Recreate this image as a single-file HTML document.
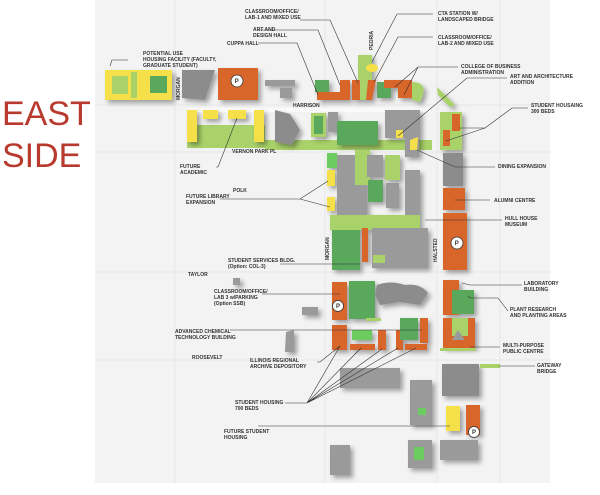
<!DOCTYPE html>
<html><head><meta charset="utf-8"><style>
html,body{margin:0;padding:0;background:#fff;width:600px;height:495px;overflow:hidden}
svg{display:block}
text{font-family:"Liberation Sans",sans-serif;font-weight:bold;fill:#333;font-size:5px}
.big{font-size:34px;font-weight:normal;fill:#b83a2e}
.st{font-size:5px;fill:#444}
</style></head><body>
<svg width="600" height="495" viewBox="0 0 600 495" xmlns="http://www.w3.org/2000/svg">
<defs><filter id="sh" x="-30%" y="-30%" width="160%" height="160%"><feDropShadow dx="3" dy="3" stdDeviation="2.5" flood-color="#000" flood-opacity="0.35"/></filter></defs>
<rect x="95" y="0" width="455" height="483" fill="#f2f3f2"/>
<g stroke="#e6e7e6" stroke-width="1" fill="none">
<path d="M95 105H550M95 152H550M95 272H550M95 360H550M175 0V483M325 0V483M437 0V483M500 0V483"/>
</g>
<text class="big" x="2" y="125">EAST</text>
<text class="big" x="2" y="167">SIDE</text>
<!-- roads light -->
<path d="M190 108 H430 V112 H190Z" fill="#fafafa"/>
<!-- north left cluster -->
<g filter="url(#sh)">
<rect x="105" y="70" width="67" height="30" fill="#f5e04a"/>
<rect x="112" y="76" width="16" height="18" fill="#a9d26a"/>
<rect x="131" y="72" width="6" height="26" fill="#a9d26a"/>
<rect x="150" y="76" width="17" height="17" fill="#5aa85c"/>
<path d="M182 70 L215 70 L205 100 L182 98Z" fill="#8c8c8c"/>
<rect x="218" y="68" width="40" height="32" fill="#d8662a"/>
<rect x="265" y="80" width="30" height="6" fill="#9a9a9a"/>
<rect x="280" y="88" width="12" height="10" fill="#9a9a9a"/>
<rect x="315" y="80" width="14" height="12" fill="#5aa85c"/>
<path d="M317 92 H340 V80 H350 V100 H317Z" fill="#d8662a"/>
<rect x="358" y="55" width="14" height="45" fill="#a9d26a"/>
<rect x="352" y="80" width="8" height="20" fill="#d8662a"/>
<path d="M368 80 H376 L372 100 H366Z" fill="#d8662a"/>
<rect x="377" y="82" width="14" height="16" fill="#5aa85c"/>
<rect x="384" y="80" width="28" height="8" fill="#d8662a"/>
<rect x="398" y="88" width="14" height="10" fill="#d8662a"/>
<path d="M412 82 Q430 82 420 102 L412 100Z" fill="#a9d26a"/>
<path d="M437 87 L455 105 L450 107 L438 95Z" fill="#a9d26a"/>
</g>
<ellipse cx="372" cy="68" rx="6" ry="4" fill="#f5e04a"/>
<circle cx="237" cy="81" r="6" fill="#fff" stroke="#333" stroke-width="0.8"/><text x="234.8" y="83" style="font-size:6px">P</text>
<!-- row 2 -->
<path d="M187 125 H265 V148 H187Z M265 140 H432 V150 H265Z" fill="#a9d26a"/>
<g filter="url(#sh)">
<rect x="187" y="110" width="10" height="32" fill="#f5e04a"/>
<rect x="203" y="110" width="15" height="9" fill="#f5e04a"/>
<rect x="228" y="110" width="18" height="9" fill="#f5e04a"/>
<rect x="254" y="110" width="10" height="32" fill="#f5e04a"/>
<path d="M275 110 L290 114 L300 130 L292 145 L275 142Z" fill="#8c8c8c"/>
<rect x="311" y="113" width="15" height="24" fill="#a9d26a"/>
<rect x="314" y="116" width="9" height="18" fill="#5aa85c"/>
<rect x="328" y="112" width="10" height="20" fill="#9a9a9a"/>
<rect x="337" y="121" width="41" height="24" fill="#5aa85c"/>
<rect x="385" y="110" width="35" height="28" fill="#9a9a9a"/>
<rect x="405" y="135" width="14" height="22" fill="#9a9a9a"/>
<rect x="440" y="112" width="22" height="38" fill="#a9d26a"/>
<rect x="452" y="114" width="8" height="17" fill="#d8662a"/>
<rect x="443" y="130" width="7" height="16" fill="#d8662a"/>
</g>
<rect x="396" y="130" width="7" height="8" fill="#f5e04a"/>
<path d="M410 140 L418 137 L417 150 L410 150Z" fill="#f5e04a"/>
<!-- central -->
<g filter="url(#sh)">
<rect x="327" y="153" width="10" height="15" fill="#6ccc5f"/>
<rect x="327" y="170" width="8" height="16" fill="#f5e04a"/>
<rect x="327" y="197" width="8" height="14" fill="#f5e04a"/>
<rect x="337" y="155" width="30" height="60" fill="#9a9a9a"/>
<rect x="355" y="150" width="15" height="35" fill="#a9d26a"/>
<rect x="367" y="155" width="16" height="22" fill="#9a9a9a"/>
<rect x="368" y="180" width="15" height="22" fill="#5aa85c"/>
<rect x="385" y="155" width="15" height="25" fill="#a9d26a"/>
<rect x="386" y="183" width="13" height="25" fill="#9a9a9a"/>
<rect x="405" y="170" width="15" height="45" fill="#9a9a9a"/>
<rect x="443" y="153" width="20" height="33" fill="#8c8c8c"/>
<rect x="443" y="188" width="22" height="22" fill="#d8662a"/>
<rect x="443" y="213" width="24" height="57" fill="#d8662a"/>
<rect x="330" y="215" width="90" height="15" fill="#a9d26a"/>
<rect x="332" y="230" width="28" height="40" fill="#5aa85c"/>
<rect x="362" y="228" width="6" height="34" fill="#d8662a"/>
<rect x="372" y="228" width="56" height="40" fill="#9a9a9a"/>
<rect x="373" y="255" width="12" height="8" fill="#a9d26a"/>
</g>
<circle cx="457" cy="243" r="6" fill="#fff" stroke="#333" stroke-width="0.8"/><text x="454.8" y="245" style="font-size:6px">P</text>
<!-- south -->
<g filter="url(#sh)">
<rect x="332" y="282" width="15" height="38" fill="#d8662a"/>
<rect x="349" y="281" width="26" height="38" fill="#5aa85c"/>
<path d="M377 285 Q390 280 405 285 Q420 283 428 293 L420 305 L400 302 L380 305 L375 295Z" fill="#8c8c8c"/>
<rect x="443" y="280" width="16" height="35" fill="#d8662a"/>
<rect x="452" y="290" width="22" height="24" fill="#5aa85c"/>
<rect x="443" y="318" width="32" height="30" fill="#d8662a"/>
<rect x="452" y="318" width="16" height="18" fill="#a9d26a"/>
<rect x="332" y="325" width="15" height="25" fill="#d8662a"/>
<rect x="352" y="330" width="20" height="10" fill="#6ccc5f"/>
<rect x="350" y="344" width="25" height="6" fill="#d8662a"/>
<rect x="378" y="330" width="8" height="20" fill="#d8662a"/>
<rect x="396" y="330" width="7" height="20" fill="#d8662a"/>
<rect x="400" y="318" width="18" height="22" fill="#5aa85c"/>
<rect x="420" y="318" width="8" height="25" fill="#d8662a"/>
<rect x="405" y="344" width="22" height="6" fill="#d8662a"/>
<rect x="340" y="368" width="60" height="20" fill="#9a9a9a"/>
<rect x="442" y="364" width="37" height="32" fill="#8c8c8c"/>
<rect x="410" y="380" width="22" height="45" fill="#9a9a9a"/>
<rect x="446" y="406" width="14" height="25" fill="#f5e04a"/>
<rect x="466" y="405" width="14" height="30" fill="#d8662a"/>
<rect x="440" y="440" width="38" height="20" fill="#9a9a9a"/>
<rect x="408" y="440" width="24" height="28" fill="#9a9a9a"/>
<rect x="414" y="447" width="10" height="13" fill="#6ccc5f"/>
<rect x="418" y="408" width="8" height="7" fill="#6ccc5f"/>
<rect x="330" y="445" width="20" height="30" fill="#9a9a9a"/>
<rect x="233" y="278" width="7" height="7" fill="#9a9a9a"/>
<rect x="302" y="307" width="16" height="8" fill="#9a9a9a"/>
<path d="M286 332 L294 330 L294 352 L285 352Z" fill="#9a9a9a"/>
</g>
<path d="M452 340 L458 330 L465 340Z" fill="#9a9a9a"/>
<rect x="366" y="318" width="15" height="3" fill="#a9d26a"/>
<rect x="440" y="348" width="36" height="3" fill="#a9d26a"/>
<rect x="480" y="364" width="20" height="4" fill="#a9d26a"/>
<circle cx="338" cy="306" r="5.5" fill="#fff" stroke="#333" stroke-width="0.8"/><text x="336" y="308" style="font-size:6px">P</text>
<circle cx="474" cy="432" r="5.5" fill="#fff" stroke="#333" stroke-width="0.8"/><text x="472" y="434" style="font-size:6px">P</text>
<!-- leader lines -->
<g stroke="#333" stroke-width="0.6" fill="none">
<path d="M128 60 H112 L110 66"/>
<path d="M258 43 H297 L318 95"/>
<path d="M258 30 H318 L340 85"/>
<path d="M300 20 H330 L358 83"/>
<path d="M433 14 H397 L372 62"/>
<path d="M433 37 H398 L374 82"/>
<path d="M458 67 H418 L395 87 M418 67 L404 95"/>
<path d="M507 78 H467 L398 136"/>
<path d="M528 108 H512 L485 128 L459 128 M485 128 L446 141"/>
<path d="M495 167 H455 L417 150"/>
<path d="M490 200 H455"/>
<path d="M502 220 H425"/>
<path d="M216 167 H218 L237 118"/>
<path d="M220 199 H300 L328 181 M300 199 L330 207"/>
<path d="M280 264 H360"/>
<path d="M262 294 H340"/>
<path d="M230 330 H422"/>
<path d="M317 362 H320 L340 346"/>
<path d="M285 403 H307 L361 348 M307 403 L382 349 M307 403 L398 348 M307 403 L416 348 M307 403 L340 346"/>
<path d="M258 426 H450"/>
<path d="M522 285 H470 L462 283"/>
<path d="M508 311 L498 298 H470 L468 296"/>
<path d="M500 347 H470"/>
<path d="M535 366 H499"/>
</g>
<!-- labels -->
<text x="143" y="55">POTENTIAL USE</text><text x="143" y="61">HOUSING FACILITY (FACULTY,</text><text x="143" y="67">GRADUATE STUDENT)</text>
<text x="245" y="13">CLASSROOM/OFFICE/</text><text x="245" y="19">LAB-1 AND MIXED USE</text>
<text x="253" y="31">ART AND</text><text x="253" y="37">DESIGN HALL</text>
<text x="227" y="45">CUPPA HALL</text>
<text x="438" y="15">CTA STATION W/</text><text x="438" y="21">LANDSCAPED BRIDGE</text>
<text x="438" y="39">CLASSROOM/OFFICE/</text><text x="438" y="45">LAB-2 AND MIXED USE</text>
<text x="461" y="68">COLLEGE OF BUSINESS</text><text x="461" y="74">ADMINISTRATION</text>
<text x="510" y="78">ART AND ARCHITECTURE</text><text x="510" y="84">ADDITION</text>
<text x="531" y="107">STUDENT HOUSAING</text><text x="531" y="113">300 BEDS</text>
<text x="498" y="168">DINING EXPANSION</text>
<text x="494" y="202">ALUMNI CENTRE</text>
<text x="505" y="220">HULL HOUSE</text><text x="505" y="226">MUSEUM</text>
<text x="180" y="168">FUTURE</text><text x="180" y="174">ACADEMIC</text>
<text x="233" y="192">POLK</text>
<text x="186" y="198">FUTURE LIBRARY</text><text x="186" y="204">EXPANSION</text>
<text x="228" y="262">STUDENT SERVICES BLDG.</text><text x="228" y="268">(Option: COL-3)</text>
<text x="188" y="276">TAYLOR</text>
<text x="214" y="293">CLASSROOM/OFFICE/</text><text x="214" y="299">LAB 3 w/PARKING</text><text x="214" y="305">(Option SSB)</text>
<text x="175" y="333">ADVANCED CHEMICAL</text><text x="175" y="339">TECHNOLOGY BUILDING</text>
<text x="192" y="359">ROOSEVELT</text>
<text x="250" y="362">ILLINOIS REGIONAL</text><text x="250" y="368">ARCHIVE DEPOSITORY</text>
<text x="235" y="404">STUDENT HOUSING</text><text x="235" y="410">700 BEDS</text>
<text x="224" y="433">FUTURE STUDENT</text><text x="224" y="439">HOUSING</text>
<text x="524" y="285">LABORATORY</text><text x="524" y="291">BUILDING</text>
<text x="510" y="311">PLANT RESEARCH</text><text x="510" y="317">AND PLANTING AREAS</text>
<text x="503" y="347">MULTI-PURPOSE</text><text x="503" y="353">PUBLIC CENTRE</text>
<text x="537" y="367">GATEWAY</text><text x="537" y="373">BRIDGE</text>
<text x="293" y="107">HARRISON</text>
<text x="232" y="153">VERNON PARK PL</text>
<text transform="translate(180,100) rotate(-90)">MORGAN</text>
<text transform="translate(373,50) rotate(-90)">PEORIA</text>
<text transform="translate(329,260) rotate(-90)">MORGAN</text>
<text transform="translate(437,262) rotate(-90)">HALSTED</text>
</svg>
</body></html>
